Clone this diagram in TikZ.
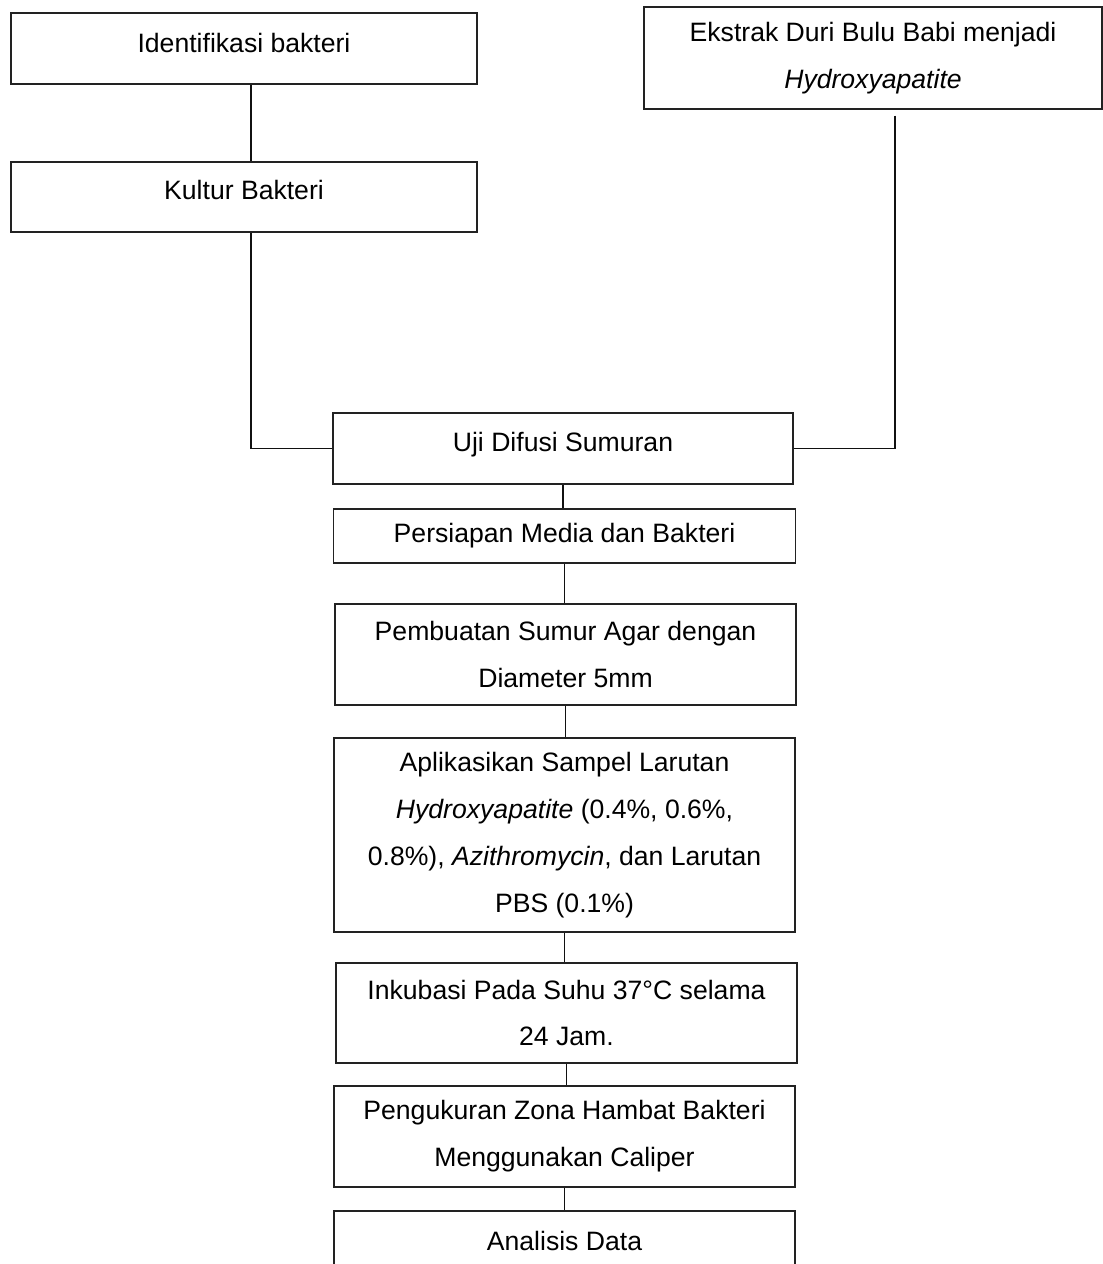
\documentclass[tikz,border=0pt]{standalone}
\usepackage{fontspec}
\setmainfont{Liberation Sans}
\usepackage{xcolor}
\usepackage{tikz}
\usetikzlibrary{
  positioning,
  calc
}
\definecolor{boxline}{HTML}{222222}
\definecolor{darkgrey}{HTML}{111111}

\tikzset{
  stage/.style={draw=boxline, line width=0.65pt, inner sep=0pt, align=center,
    font=\fontsize{13.3}{23.4}\selectfont},
  link/.style={draw=darkgrey, line width=0.95pt}
}

\begin{document}
\begin{tikzpicture}[x=0.5pt, y=-0.5pt]
  \useasboundingbox (0,0) rectangle (1103,1264);
  \node[stage, minimum width=233pt, minimum height=35.5pt, text depth=5.5pt] (ident) at (244,48.5) {Identifikasi bakteri};
  \node[stage, minimum width=233pt, minimum height=35pt, text depth=7pt] (kultur) at (244,197) {Kultur Bakteri};
  \node[stage, minimum width=229pt, minimum height=51pt] (ekstrak) at (873,58)
    {Ekstrak Duri Bulu Babi menjadi\\\textit{Hydroxyapatite}};
  \node[stage, minimum width=230pt, minimum height=35.5pt, text depth=6.5pt] (uji) at (563,448.5) {Uji Difusi Sumuran};
  \node[stage, minimum width=231pt, minimum height=27pt] (persiapan) at (564.5,536) {Persiapan Media dan Bakteri};
  \node[stage, minimum width=230.5pt, minimum height=50.5pt] (sumur) at (565.5,654.5)
    {Pembuatan Sumur Agar dengan\\Diameter 5mm};
  \node[stage, minimum width=230.5pt, minimum height=97pt] (sampel) at (564.5,835)
    {Aplikasikan Sampel Larutan\\\textit{Hydroxyapatite} (0.4\%, 0.6\%,\\0.8\%), \textit{Azithromycin}, dan Larutan\\PBS (0.1\%)};
  \node[stage, minimum width=230.5pt, minimum height=50pt] (inkubasi) at (566.5,1013)
    {Inkubasi Pada Suhu 37°C selama\\24 Jam.};
  \node[stage, minimum width=230.5pt, minimum height=50.5pt] (zona) at (564.5,1136.5)
    {Pengukuran Zona Hambat Bakteri\\Menggunakan Caliper};
  \node[stage, minimum width=230.5pt, minimum height=35pt, text depth=5pt] (analisis) at (564.5,1246) {Analisis Data};

  \draw[link] ([xshift=3.5pt]ident.south) -- ([xshift=3.5pt]kultur.north);
  \draw[link] ([xshift=3.5pt]kultur.south) |- (uji.west);
  \draw[link] ([xshift=11pt, yshift=-3pt]ekstrak.south) |- (uji.east);
  \foreach \a/\b in {uji/persiapan, persiapan/sumur, sumur/sampel, sampel/inkubasi, inkubasi/zona, zona/analisis} {
    \draw[link] (\a.south) -- (\a.south |- \b.north);
  }
\end{tikzpicture}
\end{document}
